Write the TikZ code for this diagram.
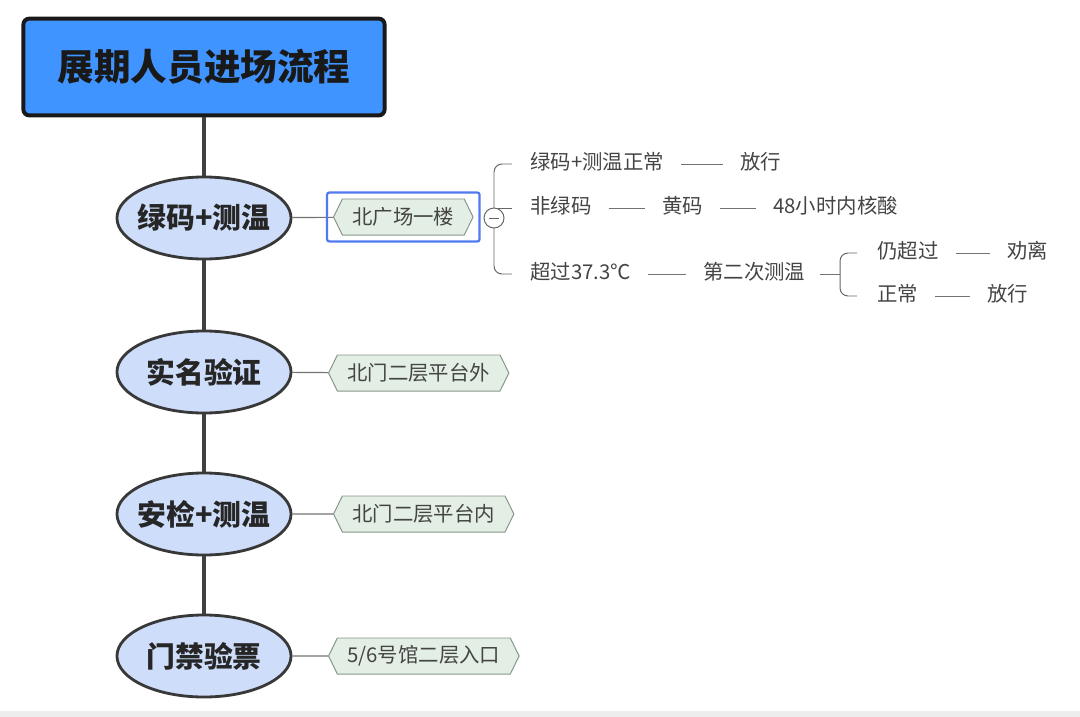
\documentclass[tikz,border=0pt]{standalone}
\usepackage{fontspec}
\setmainfont{Noto Sans CJK SC}
\usetikzlibrary{shapes.geometric,shapes.symbols,fit}
\definecolor{titleblue}{RGB}{64,148,255}
\definecolor{stagefill}{RGB}{206,222,250}
\definecolor{tagfill}{RGB}{227,238,228}
\definecolor{tagline}{RGB}{135,150,138}
\definecolor{selblue}{RGB}{82,122,240}
\definecolor{ink}{RGB}{68,68,68}
\begin{document}
\begin{tikzpicture}[x=0.025cm,y=-0.025cm]
            \tikzstyle{title}=[rectangle,rounded corners=0.15cm,line width=2.8pt,draw=black!90,fill=titleblue,minimum width=9.03cm,minimum height=2.42cm,font=\bfseries\fontsize{26}{30}\selectfont,text=black!90]
            \tikzstyle{stage}=[ellipse,line width=2pt,draw=black!78,fill=stagefill,inner xsep=-0.15cm,inner ysep=0pt,minimum width=4.35cm,minimum height=2.05cm,font=\bfseries\fontsize{20.5}{24}\selectfont,text=black!85]
            \tikzstyle{place}=[signal,signal to=west and east,signal pointer angle=128,draw=tagline,fill=tagfill,line width=0.7pt,minimum height=0.9cm,inner xsep=0.25cm,font=\fontsize{14.5}{17}\selectfont,text=ink,anchor=west]
            \tikzstyle{item}=[inner sep=0pt,anchor=west,text height=0.88em,text depth=0.12em,font=\fontsize{14.5}{17}\selectfont,text=ink]
            \tikzstyle{trunk}=[draw=black!75,line width=3pt]
            \tikzstyle{spoke}=[draw=black!55,line width=0.8pt]
            \tikzstyle{link}=[draw=black!55,line width=0.5pt,shorten <=0.42cm,shorten >=0.42cm]
            \tikzstyle{bracket}=[draw=black!60,line width=0.7pt,rounded corners=0.2cm]
            \useasboundingbox (0,0) rectangle (1080,717);
            \fill[black!7] (0,711) rectangle (1080,717);
            \begin{scope}
               \node [title] (head) at (204,67) {展期人员进场流程};
               \node [stage] (s1) at (204,218) {绿码+测温};
               \node [stage] (s2) at (204,372) {实名验证};
               \node [stage] (s3) at (204,514) {安检+测温};
               \node [stage] (s4) at (204,656) {门禁验票};
               \path[trunk] (head) edge (s1) (s1) edge (s2) (s2) edge (s3) (s3) edge (s4);
               \node [place] (p1) at (333,217) {北广场一楼};
               \node [place] (p2) at (328,373) {北门二层平台外};
               \node [place] (p3) at (333,514) {北门二层平台内};
               \node [place] (p4) at (328,656) {5/6号馆二层入口};
               \path[spoke] (s1) edge (p1) (s2) edge (p2) (s3) edge (p3) (s4) edge (p4);
               \node [draw=selblue,line width=1.6pt,rounded corners=0.06cm,inner sep=0.15cm,fit=(p1)] (sel) {};
            \end{scope}
            \begin{scope}
               \node [item] (a1) at (530,164) {绿码+测温正常};
               \node [item] (a2) at (740,164) {放行};
               \node [item] (b1) at (530,208) {非绿码};
               \node [item] (b2) at (662,208) {黄码};
               \node [item] (b3) at (773,208) {48小时内核酸};
               \node [item] (c1) at (530,274) {超过37.3℃};
               \node [item] (c2) at (703,274) {第二次测温};
               \node [item] (d1) at (877,253) {仍超过};
               \node [item] (d2) at (1007,253) {劝离};
               \node [item] (e1) at (877,296) {正常};
               \node [item] (e2) at (987,296) {放行};
               \coordinate (fork) at (840,274);
               \path[link] (a1) edge (a2) (b1) edge (b2) (b2) edge (b3) (c1) edge (c2) (d1) edge (d2) (e1) edge (e2);
               \draw[link,shorten >=0pt,shorten <=0.35cm] (c2.east) -- (fork);
               \draw[bracket] ([xshift=-0.5cm]d1.west) -| (fork) |- ([xshift=-0.5cm]e1.west);
               \draw[bracket] ([xshift=-0.45cm]a1.west) -| (494,218) |- ([xshift=-0.45cm]c1.west);
               \draw[bracket] (494,208) -- ([xshift=-0.45cm]b1.west);
               \node [circle,draw=black!60,fill=white,line width=0.7pt,minimum size=0.5cm,inner sep=0pt,text=black!60] (fold) at (494,218) {\rule{0.25cm}{0.6pt}};
            \end{scope}
\end{tikzpicture}
\end{document}
